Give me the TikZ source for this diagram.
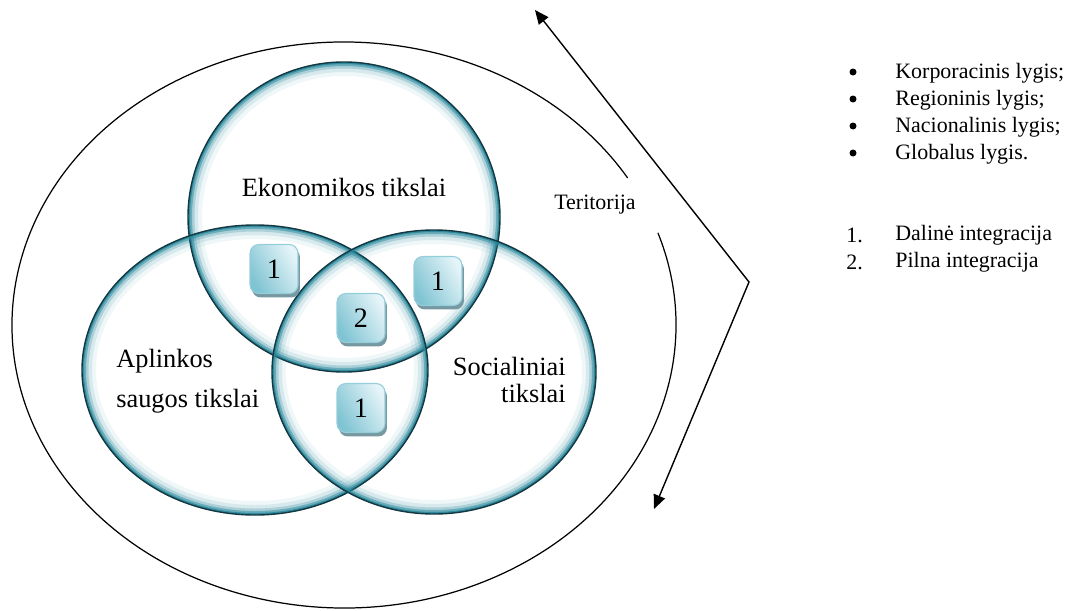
\documentclass[tikz,border=0pt]{standalone}
\usepackage{fontspec}
\setmainfont{Liberation Serif}
\usetikzlibrary{arrows.meta, shadows}
\definecolor{ringteal}{RGB}{40,135,155}
\definecolor{ringdark}{RGB}{20,55,65}
\definecolor{boxdark}{RGB}{128,196,211}
\definecolor{boxlight}{RGB}{228,244,248}
\definecolor{boxedge}{RGB}{150,205,218}
\definecolor{boxshade}{RGB}{118,152,160}
\tikzset{
  numbox/.style={rectangle, rounded corners=5pt, minimum width=0.96cm,
    minimum height=0.98cm, draw=boxedge, line width=0.6pt,
    left color=boxdark, right color=boxlight, shading angle=120,
    font=\fontsize{16}{18}\selectfont,
    drop shadow={shadow xshift=0.4mm, shadow yshift=-0.8mm, fill=boxshade, opacity=1}},
  venntext/.style={font=\fontsize{15}{22.7}\selectfont, inner sep=0pt},
  legtext/.style={font=\fontsize{12.5}{15}\selectfont, anchor=west, inner sep=0pt},
  legdot/.style={circle, fill=black, inner sep=0pt, minimum size=1.4mm},
  outline/.style={line width=0.7pt, color=black},
  bigarrow/.style={{Triangle[length=2.8mm, width=2.4mm]}-{Triangle[length=2.8mm, width=2.4mm]},
    line width=0.8pt, line join=miter}
}
\newcommand\vennring[3]{%
  \begin{scope}
    \clip (#1) ellipse[x radius=#2, y radius=#3];
    \foreach \w/\o in {28/0.07, 20/0.12, 13/0.25, 8/0.5, 4/0.9}
      \draw[ringteal, opacity=\o, line width=\w*0.2mm] (#1) ellipse[x radius=#2, y radius=#3];
  \end{scope}
  \draw[ringdark, line width=0.8pt] (#1) ellipse[x radius=#2, y radius=#3];
}

\begin{document}
\begin{tikzpicture}[x=0.02cm, y=0.02cm]
  \useasboundingbox (0,0) rectangle (1069,610);

  % territory
  \coordinate (terr) at (344,285);
  \draw[outline] (terr) ++(31.3:332 and 283)
    arc[start angle=31.3, end angle=379, x radius=332, y radius=283];
  \node[legtext, anchor=center] (terrlbl) at (595,405) {Teritorija};

  \coordinate (uptip) at (535,600);
  \coordinate (apex) at (749,328);
  \coordinate (downtip) at (654,101);
  \draw[bigarrow] (uptip) -- (apex) -- (downtip);

  % goals
  \coordinate (eco) at (344,393);
  \coordinate (env) at (255,240);
  \coordinate (soc) at (434,238);
  \vennring{eco}{156}{155}
  \vennring{env}{173}{145}
  \vennring{soc}{162}{142}

  \node[venntext] (ecolbl) at (344,423) {Ekonomikos tikslai};
  \node[venntext, anchor=west, align=left] (envlbl) at (116,229) {Aplinkos\\ saugos tikslai};
  \node[venntext, anchor=east, align=right, font=\fontsize{15}{15.5}\selectfont] (soclbl) at (566,230) {Socialiniai\\ tikslai};

  \node[numbox] (ecoenv) at (274,341) {1};
  \node[numbox] (ecosoc) at (438,329) {1};
  \node[numbox] (allthree) at (361,292) {2};
  \node[numbox] (envsoc) at (361,202) {1};

  % levels
  \foreach \txt [count=\i] in {{Korporacinis lygis;}, {Regioninis lygis;},
      {Nacionalinis lygis;}, {Globalus lygis.}} {
    \node[legdot] (dot\i) at (853,565-27*\i) {};
    \node[legtext] (lvl\i) at (895,564-27*\i) {\txt};
  }
  \node[legtext] (num1) at (846,375) {1.};
  \node[legtext] (integ1) at (895,375) {Dalinė integracija};
  \node[legtext] (num2) at (846,348) {2.};
  \node[legtext] (integ2) at (895,348) {Pilna integracija};
\end{tikzpicture}
\end{document}
